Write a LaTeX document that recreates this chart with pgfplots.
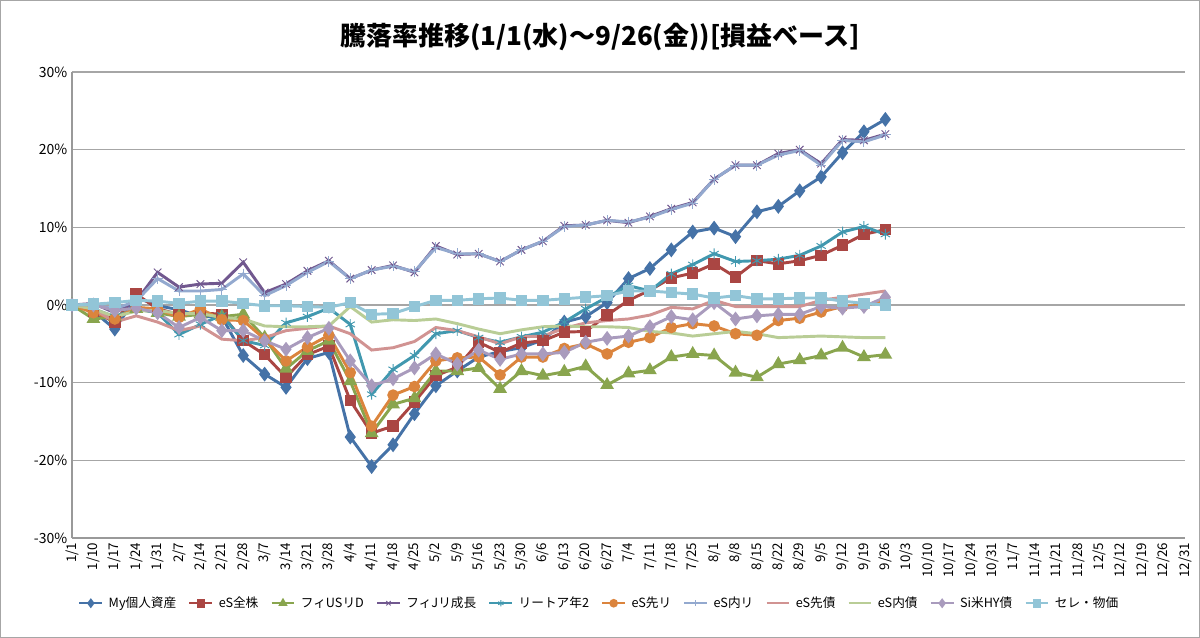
\documentclass[border=0pt]{standalone}
\usepackage{pgfplots}
\pgfplotsset{compat=1.18}
\usepackage{pgfplotstable}
\usepackage{fontspec}
\setmainfont{Noto Sans CJK JP}
\pgfplotstableread{
i blue red green purple teal orange ltblue pink ltgreen lav sky
0 0 0 0 0 0 0 0 0 0 0 0
1 -0.8 -0.8 -1.8 0.2 -0.5 -1.0 0.0 -0.5 -0.5 0.0 0.1
2 -3.1 -2.2 -1.5 -1.0 -1.5 -1.8 -0.5 -2.2 -1.5 -0.7 0.3
3 1.0 1.4 -0.5 0.5 -0.5 -0.3 0.5 -1.4 -0.8 -0.4 0.6
4 -0.1 -0.5 -1.0 4.2 -1.0 -0.5 3.4 -2.2 -0.7 -1.0 0.5
5 -0.6 -1.2 -1.5 2.3 -3.8 -1.6 1.8 -3.3 -1.1 -2.9 0.2
6 -1.5 -1.0 -1.2 2.7 -2.5 -0.5 1.8 -2.7 -1.1 -1.6 0.5
7 -1.5 -1.2 -1.5 2.8 -1.3 -1.9 2.0 -4.4 -1.6 -3.3 0.5
8 -6.5 -4.6 -1.2 5.5 -4.6 -2.0 4.0 -4.6 -1.8 -3.3 0.2
9 -8.9 -6.4 -4.2 1.6 -5.2 -4.4 1.2 -4.2 -2.7 -4.6 -0.1
10 -10.6 -9.3 -8.2 2.7 -2.3 -7.2 2.5 -3.3 -2.8 -5.7 -0.1
11 -6.9 -6.4 -5.9 4.4 -1.5 -5.4 4.2 -3.0 -2.8 -4.2 -0.2
12 -6.1 -5.3 -4.6 5.7 -0.4 -3.9 5.6 -2.7 -2.7 -3.0 -0.3
13 -17.0 -12.3 -9.8 3.4 -2.5 -8.7 3.4 -3.7 -0.2 -7.2 0.3
14 -20.8 -16.5 -16.5 4.5 -11.5 -15.6 4.5 -5.8 -2.2 -10.4 -1.2
15 -18.0 -15.6 -12.8 5.1 -8.3 -11.6 5.0 -5.5 -1.9 -9.5 -1.1
16 -14.0 -12.5 -12.0 4.2 -6.5 -10.5 4.3 -4.7 -2.0 -8.1 -0.2
17 -10.4 -9.1 -8.5 7.6 -3.7 -7.2 7.4 -2.9 -1.8 -6.3 0.6
18 -8.5 -8.0 -8.5 6.5 -3.3 -6.8 6.6 -3.3 -2.4 -7.6 0.6
19 -6.7 -4.8 -8.1 6.6 -4.2 -6.7 6.6 -4.1 -3.1 -5.8 0.8
20 -6.0 -6.1 -10.8 5.6 -4.8 -9.0 5.6 -5.0 -3.7 -7.0 0.9
21 -5.5 -4.9 -8.5 7.1 -4.1 -6.7 7.1 -4.1 -3.2 -6.3 0.6
22 -4.5 -4.6 -9.1 8.2 -3.5 -6.7 8.2 -4.0 -2.8 -6.3 0.6
23 -2.2 -3.5 -8.6 10.2 -2.2 -5.6 10.1 -3.0 -2.7 -6.1 0.8
24 -1.5 -3.4 -7.9 10.3 -0.5 -5.0 10.3 -2.3 -2.8 -4.8 1.0
25 0.3 -1.3 -10.3 10.9 1.0 -6.3 10.9 -2.0 -2.8 -4.3 1.2
26 3.4 0.6 -8.8 10.6 2.5 -4.8 10.7 -1.8 -2.9 -4.0 1.8
27 4.7 1.9 -8.4 11.4 1.8 -4.2 11.3 -1.3 -3.4 -2.8 1.8
28 7.1 3.5 -6.7 12.4 4.0 -2.9 12.3 -0.3 -3.6 -1.5 1.6
29 9.4 4.1 -6.3 13.2 5.2 -2.4 13.1 -0.5 -4.0 -1.9 1.4
30 9.9 5.3 -6.5 16.2 6.6 -2.7 16.2 0.6 -3.7 0.3 0.9
31 8.8 3.6 -8.7 18.0 5.6 -3.7 18.0 -0.2 -3.4 -1.8 1.2
32 12.0 5.7 -9.3 18.0 5.7 -3.9 18.0 -0.2 -3.7 -1.4 0.8
33 12.7 5.3 -7.6 19.5 5.9 -2.0 19.3 -0.2 -4.2 -1.2 0.8
34 14.7 5.7 -7.1 20.0 6.4 -1.7 19.9 -0.2 -4.1 -1.2 0.9
35 16.5 6.4 -6.5 18.2 7.6 -0.9 18.0 0.6 -4.0 -0.2 0.9
36 19.6 7.7 -5.5 21.3 9.4 -0.2 21.2 1.0 -4.1 -0.4 0.5
37 22.3 9.1 -6.7 21.2 10.1 0.0 21.0 1.4 -4.2 -0.2 0.2
38 23.9 9.7 -6.4 22.0 9.1 0.5 21.9 1.8 -4.2 1.0 0.0
}\data
\definecolor{cblue}{HTML}{4572A7}
\definecolor{cred}{HTML}{AA4643}
\definecolor{cgreen}{HTML}{89A54E}
\definecolor{cpurple}{HTML}{71588F}
\definecolor{cteal}{HTML}{4198AF}
\definecolor{corange}{HTML}{DB843D}
\definecolor{cltblue}{HTML}{93A9CF}
\definecolor{cpink}{HTML}{D19392}
\definecolor{cltgreen}{HTML}{B9CD96}
\definecolor{clav}{HTML}{A99BBD}
\definecolor{csky}{HTML}{92C5D7}
\begin{document}
\begin{tikzpicture}[x=1pt,y=1pt]
\path[use as bounding box] (0,0) rectangle (900,478.5);
\draw[gray!70, line width=0.8pt] (0.5,0.5) rectangle (899.5,478);
\node[font=\fontsize{19.5}{22}\selectfont\bfseries] at (450,451) {騰落率推移(1/1(水)～9/26(金))[損益ベース]};
\begin{axis}[at={(54pt,75pt)}, anchor=south west, scale only axis,
  width=834.75pt, height=349.5pt,
  xmin=0, xmax=52, ymin=-30, ymax=30,
  ytick={-30,-20,...,30}, yticklabel={\pgfmathprintnumber{\tick}\%},
  /pgf/number format/assume math mode=true,
  ymajorgrids, grid style={gray!70, line width=0.8pt},
  xtick={0,...,52},
  xticklabels={1/1,1/10,1/17,1/24,1/31,2/7,2/14,2/21,2/28,3/7,3/14,3/21,3/28,4/4,4/11,4/18,4/25,5/2,5/9,5/16,5/23,5/30,6/6,6/13,6/20,6/27,7/4,7/11,7/18,7/25,8/1,8/8,8/15,8/22,8/29,9/5,9/12,9/19,9/26,10/3,10/10,10/17,10/24,10/31,11/7,11/14,11/21,11/28,12/5,12/12,12/19,12/26,12/31},
  xticklabel style={rotate=90, anchor=east, font=\fontsize{10}{11}\selectfont},
  yticklabel style={font=\fontsize{10.5}{12}\selectfont},
  major tick length=0pt,
  axis line style={gray!80, line width=0.8pt},
  axis x line*=bottom, axis y line*=left,
  every axis plot/.append style={line width=2.2pt, mark size=3.2pt},
  legend style={at={(0.474,-0.14)}, anchor=center, draw=none, legend columns=11,
    font=\fontsize{9.5}{11}\selectfont, column sep=2pt, /tikz/every even column/.append style={column sep=7pt}},
  legend image post style={mark size=2.3pt, line width=1.8pt},
]
\addplot[cblue, mark=diamond*, mark size=3.8pt] table[x=i,y=blue]{\data};
\addlegendentry{My個人資産}
\addplot[cred, mark=square*] table[x=i,y=red]{\data};
\addlegendentry{eS全株}
\addplot[cgreen, mark=triangle*, mark size=3.8pt] table[x=i,y=green]{\data};
\addlegendentry{フィUSリD}
\addplot[cpurple, mark=x, mark options={line width=0.7pt}, mark size=4pt] table[x=i,y=purple]{\data};
\addlegendentry{フィJリ成長}
\addplot[cteal, mark=asterisk, mark options={line width=0.7pt}, mark size=4pt] table[x=i,y=teal]{\data};
\addlegendentry{リートア年2}
\addplot[corange, mark=*] table[x=i,y=orange]{\data};
\addlegendentry{eS先リ}
\addplot[cltblue, mark=+, mark options={line width=0.7pt}, mark size=4pt] table[x=i,y=ltblue]{\data};
\addlegendentry{eS内リ}
\addplot[cpink, no marks] table[x=i,y=pink]{\data};
\addlegendentry{eS先債}
\addplot[cltgreen, no marks] table[x=i,y=ltgreen]{\data};
\addlegendentry{eS内債}
\addplot[clav, mark=diamond*, mark size=3.8pt] table[x=i,y=lav]{\data};
\addlegendentry{Si米HY債}
\addplot[csky, mark=square*] table[x=i,y=sky]{\data};
\addlegendentry{セレ・物価}
\end{axis}
\end{tikzpicture}
\end{document}
